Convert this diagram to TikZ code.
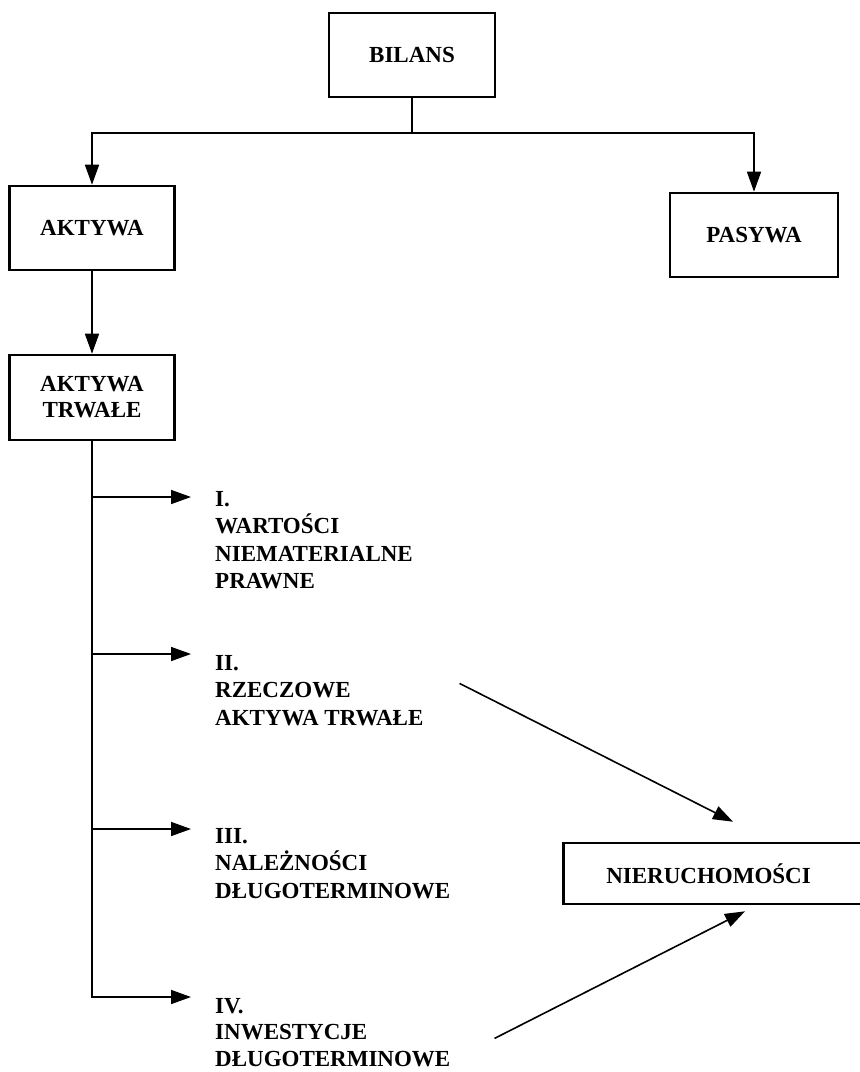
\documentclass[tikz,border=0pt]{standalone}
\usepackage{fontspec}
\setmainfont{Liberation Serif}
\usetikzlibrary{positioning,arrows.meta}

\tikzset{
  box/.style={draw, line width=2.6pt, align=center, inner sep=0pt,
    minimum height=84pt, font=\fontsize{23}{26}\selectfont\bfseries},
  item/.style={align=left, inner sep=0pt, anchor=north west,
    font=\fontsize{23}{27.5}\selectfont\bfseries},
  link/.style={line width=1.6pt},
  arr/.style={link, -{Triangle[length=20pt,width=14pt]}},
}

\begin{document}
\begin{tikzpicture}[x=1pt, y=-1pt]
  \useasboundingbox (0,0) rectangle (860,1072);
  % boxes
  \node[box, minimum width=166pt] (bilans) at (412,55) {BILANS};
  \node[box, minimum width=165pt] (aktywa) at (92,228) {AKTYWA};
  \node[box, minimum width=168pt] (pasywa) at (754,235) {PASYWA};
  \node[box, minimum width=165pt, minimum height=85pt] (trwale) at (92,397.5) {AKTYWA\\TRWAŁE};
  \node[box, minimum height=61pt, anchor=west, inner xsep=43pt,
    text width=300pt, align=left] (nier) at (562,873.5) {NIERUCHOMOŚCI};
  % items
  \node[item] (i1) at (215,491) {I.\\WARTOŚCI\\NIEMATERIALNE\\PRAWNE};
  \node[item] (i2) at (215,655) {II.\\RZECZOWE\\AKTYWA TRWAŁE};
  \node[item] (i3) at (215,828) {III.\\NALEŻNOŚCI\\DŁUGOTERMINOWE};
  \node[item, font=\fontsize{23}{26.5}\selectfont\bfseries] (i4) at (215,998) {IV.\\INWESTYCJE\\DŁUGOTERMINOWE};
  % tree
  \coordinate (split) at (bilans.south |- 0,133);
  \draw[link] (bilans) -- (split);
  \draw[arr] (split) -| (aktywa);
  \draw[arr] (split) -| (pasywa);
  \draw[arr] (aktywa) -- (trwale);
  % branches
  \coordinate (b1) at (191,497);
  \coordinate (b2) at (191,654);
  \coordinate (b3) at (191,829);
  \coordinate (b4) at (191,997);
  \draw[arr] (trwale) |- (b4);
  \foreach \b in {b1,b2,b3}
    \draw[arr] (trwale |- \b) -- (\b);
  % to NIERUCHOMOŚCI
  \draw[arr] ([shift={(36,-7)}]i2.east) -- ([shift={(171,-20)}]nier.north west);
  \draw[arr] ([shift={(44,6)}]i4.east) -- ([shift={(183,6)}]nier.south west);
\end{tikzpicture}
\end{document}
